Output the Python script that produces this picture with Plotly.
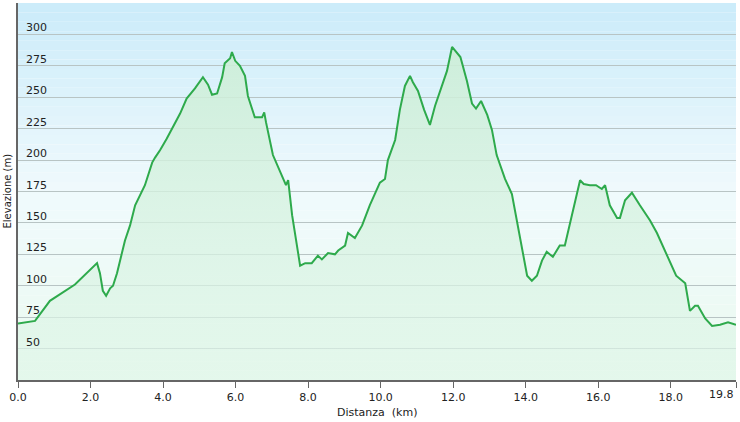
import plotly.graph_objects as go

dist = [0, 0.47, 0.88, 1.3, 1.57, 2.18, 2.26, 2.34, 2.43, 2.54, 2.62, 2.73, 2.8, 2.95, 3.09, 3.23,
        3.5, 3.7, 3.78, 3.92, 4.1, 4.27, 4.47, 4.65, 4.88, 5.1, 5.24, 5.35, 5.49, 5.63, 5.7, 5.85,
        5.9, 5.99, 6.12, 6.26, 6.34, 6.53, 6.73, 6.79, 6.84, 7.03, 7.23, 7.39, 7.45, 7.56, 7.78,
        7.92, 8.1, 8.27, 8.38, 8.55, 8.74, 8.83, 9.02, 9.1, 9.29, 9.49, 9.7, 9.98, 10.12, 10.2,
        10.4, 10.53, 10.67, 10.81, 10.89, 11.03, 11.2, 11.36, 11.5, 11.69, 11.83, 11.97, 12.2,
        12.38, 12.52, 12.63, 12.77, 12.94, 13.07, 13.2, 13.43, 13.62, 13.84, 14.04, 14.17, 14.31,
        14.45, 14.58, 14.75, 14.94, 15.08, 15.22, 15.41, 15.5, 15.6, 15.77, 15.94, 16.1, 16.19,
        16.32, 16.52, 16.6, 16.74, 16.93, 17.15, 17.43, 17.62, 17.93, 18.15, 18.4, 18.53, 18.67,
        18.75, 18.95, 19.14, 19.36, 19.58, 19.8]
elev = [70, 72, 88, 96, 101, 118, 110, 96, 92, 98, 100, 110, 118, 136, 148, 164,
        180, 198, 202, 208, 217, 226, 237, 249, 257, 266, 260, 252, 253, 266, 277, 281,
        286, 279, 275, 267, 251, 234, 234, 238, 230, 204, 190, 180, 184, 156, 116,
        118, 118, 124, 121, 126, 125, 128, 132, 142, 138, 148, 164, 182, 185, 200,
        216, 240, 259, 267, 262, 255, 240, 228, 243, 259, 271, 290, 282,
        263, 245, 241, 247, 236, 224, 204, 185, 173, 140, 108, 104, 108,
        120, 127, 123, 132, 132, 150, 174, 184, 181, 180, 180, 177, 180,
        164, 154, 154, 168, 174, 164, 152, 142, 122, 108, 102, 80, 84,
        84, 74, 68, 69, 71, 69]

x_ticks = [0, 2, 4, 6, 8, 10, 12, 14, 16, 18, 19.8]
x_labels = ["0.0", "2.0", "4.0", "6.0", "8.0", "10.0", "12.0", "14.0", "16.0", "18.0", "19.8"]
y_ticks = [50, 75, 100, 125, 150, 175, 200, 225, 250, 275, 300]
y_min, y_max = 25, 325

# background gradient: light blue at top, pale green at bottom
shapes = []
n = 40
top, mid, bot = (204, 236, 250), (240, 250, 253), (236, 250, 240)
for i in range(n):
    t = i / (n - 1)
    if t < 0.5:
        a, b, f = top, mid, t / 0.5
    else:
        a, b, f = mid, bot, (t - 0.5) / 0.5
    c = tuple(int(a[k] + (b[k] - a[k]) * f) for k in range(3))
    shapes.append(dict(type="rect", xref="paper", yref="paper", x0=0, x1=1,
                       y0=1 - (i + 1) / n, y1=1 - i / n, line_width=0,
                       fillcolor="rgb(%d,%d,%d)" % c, layer="below"))

fig = go.Figure(go.Scatter(
    x=dist, y=elev, mode="lines",
    line=dict(color="#2eaa4c", width=2),
    fill="tozeroy",
    fillgradient=dict(type="vertical",
                      colorscale=[[0, "rgba(225,247,235,0.6)"], [1, "rgba(205,238,215,0.9)"]]),
    hoverinfo="skip"))

annotations = [dict(x=0, y=v, xref="paper", yref="y", text=str(v), showarrow=False,
                    xanchor="left", yanchor="bottom", xshift=6, yshift=-2,
                    font=dict(size=11, color="#222")) for v in y_ticks]
annotations.append(dict(x=0, y=0.5, xref="paper", yref="paper", text="Elevazione (m)",
                        textangle=-90, showarrow=False, xanchor="center", xshift=-11,
                        font=dict(size=10, color="#222")))
# last tick label sits flush with the right edge
annotations.append(dict(x=1, y=0, xref="paper", yref="paper", text=x_labels[-1],
                        showarrow=False, xanchor="right", yanchor="top", yshift=-6,
                        font=dict(size=11, color="#222")))
annotations.append(dict(x=0.5, y=0, xref="paper", yref="paper", text="Distanza  (km)",
                        showarrow=False, yanchor="top", yshift=-24,
                        font=dict(size=11, color="#222")))

fig.update_layout(
    width=740, height=422,
    margin=dict(l=18, r=4, t=3, b=42, autoexpand=False),
    paper_bgcolor="white", plot_bgcolor="rgba(0,0,0,0)",
    font=dict(family="DejaVu Sans", size=11, color="#222"),
    showlegend=False, shapes=shapes, annotations=annotations,
    xaxis=dict(range=[0, 19.8], tickvals=x_ticks, ticktext=x_labels[:-1] + [""],
               ticks="outside", ticklen=6, tickcolor="#666", showgrid=False,
               showline=True, linecolor="#666", linewidth=2, zeroline=False,
               automargin=False),
    yaxis=dict(range=[y_min, y_max], tickvals=y_ticks, showticklabels=False,
               gridcolor="#b8c4c4", gridwidth=1, showline=True, linecolor="#666",
               linewidth=2, zeroline=False, automargin=False),
)
fig.write_html("out.html", config={"displayModeBar": False},
               post_script="document.body.style.margin='0';")
